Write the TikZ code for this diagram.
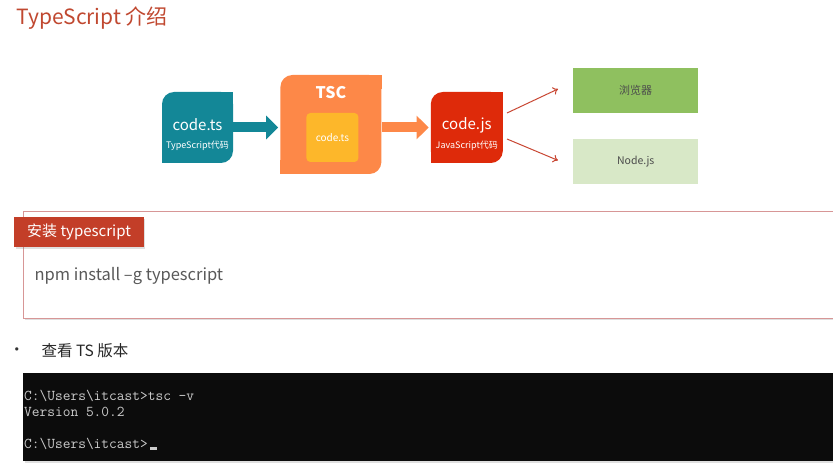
\documentclass[tikz,border=0pt]{standalone}
\usepackage{fontspec}
\setmainfont{Noto Sans CJK SC}
\usetikzlibrary{positioning,arrows.meta,shadows,backgrounds}

\definecolor{titlered}{RGB}{192,72,48}
\definecolor{tsteal}{RGB}{19,135,151}
\definecolor{tscorange}{RGB}{253,136,72}
\definecolor{tscyellow}{RGB}{253,183,42}
\definecolor{jsred}{RGB}{222,42,10}
\definecolor{linkred}{RGB}{200,70,50}
\definecolor{brgreen}{RGB}{143,192,95}
\definecolor{ndgreen}{RGB}{216,232,199}
\definecolor{barred}{RGB}{195,62,40}
\definecolor{boxline}{RGB}{215,150,150}
\definecolor{textgray}{RGB}{89,89,89}
\definecolor{termblack}{RGB}{12,12,12}
\definecolor{termtext}{RGB}{204,204,204}

\begin{document}
\begin{tikzpicture}[
        x=1pt, y=-1pt,
        node distance=26pt,
        tile/.style={rounded corners=12pt, inner sep=0pt},
        tiletext/.style={text=white, inner sep=0pt},
        fatarrow/.style={draw=#1, line width=10pt, -{Triangle[length=12pt,width=23pt]}, shorten >=2pt},
        thinarrow/.style={draw=linkred, line width=1pt, -{To[length=5pt,width=8pt]}},
        softshadow/.style={drop shadow={shadow xshift=1.5pt, shadow yshift=-2pt, opacity=0.25}}
    ]
    \useasboundingbox (0,0) rectangle (833,465);
    \clip (0,0) rectangle (833,465);

    \node (title) [anchor=west, text=titlered, font=\fontsize{21}{24}\selectfont] at (13,18) {TypeScript 介绍};

    % compile chain
    \node (ts)  [tile, fill=tsteal, minimum width=71pt, minimum height=71pt] at (197.5,127.5) {};
    \node (tsc) [tile, fill=tscorange, minimum width=101pt, minimum height=99pt, right=47pt of ts, yshift=3pt] {};
    \node (js)  [tile, fill=jsred, minimum width=72pt, minimum height=71pt, right=49pt of tsc, yshift=-3pt] {};
    \begin{scope}[on background layer]
        \foreach \n/\c in {ts/tsteal, tsc/tscorange, js/jsred} {
            \fill [\c] (\n.north east) rectangle ++(-14pt,-14pt);
            \fill [\c] (\n.south west) rectangle ++(14pt,14pt);
        }
    \end{scope}

    \node (tsname)   [tiletext, font=\fontsize{15}{18}\selectfont] at ([yshift=2.5pt]ts.center)  {code.ts};
    \node (tsnote)   [tiletext, font=\fontsize{9}{11}\selectfont]  at ([yshift=-18.5pt]ts.center) {TypeScript代码};
    \node (tsclabel) [tiletext, font=\bfseries\fontsize{16}{19}\selectfont] at ([yshift=-18pt]tsc.north) {TSC};
    \node (tscin)    [fill=tscyellow, rounded corners=4pt, minimum width=52pt, minimum height=49pt, text=white,
                      font=\fontsize{10}{12}\selectfont] at ([xshift=1.5pt,yshift=-13pt]tsc.center) {code.ts};
    \node (jsname)   [tiletext, font=\fontsize{15}{18}\selectfont] at ([yshift=2.5pt]js.center)  {code.js};
    \node (jsnote)   [tiletext, font=\fontsize{9}{11}\selectfont]  at ([yshift=-18.5pt]js.center) {JavaScript代码};

    \node (br) [fill=brgreen, minimum width=125pt, minimum height=45pt, text=black!70,
                font=\fontsize{11}{13}\selectfont, right=70pt of js, yshift=37pt] {浏览器};
    \node (nd) [fill=ndgreen, minimum width=125pt, minimum height=45pt, text=black!70,
                font=\fontsize{10.5}{13}\selectfont, below=of br] {Node.js};

    \draw [fatarrow=tsteal]    (ts.east) -- (ts.east -| tsc.west);
    \draw [fatarrow=tscorange] (js.west -| tsc.east) -- (js.west);
    \draw [thinarrow] ([xshift=4pt,yshift=14.5pt]js.east)  -- ([xshift=-15pt,yshift=1.5pt]br.west);
    \draw [thinarrow] ([xshift=4pt,yshift=-11.5pt]js.east) -- ([xshift=-15pt,yshift=1.5pt]nd.west);

    % install box
    \node (inst) [draw=boxline, fill=white, line width=0.8pt, minimum width=830pt, minimum height=107pt,
                  anchor=north west, softshadow] at (23,211) {};
    \node (instlabel) [fill=barred, text=white, inner xsep=13pt, minimum height=30pt, anchor=north west,
                       font=\fontsize{15}{18}\selectfont, softshadow] at (14,217) {安装 typescript};
    \node (npm) [anchor=west, text=textgray, font=\fontsize{16.5}{19}\selectfont] at (31,276) {npm install –g typescript};

    \node (dot) [text=black!80, font=\fontsize{16}{18}\selectfont] at (17,352) {•};
    \node (ver) [anchor=west, text=black!85, font=\fontsize{15.5}{18}\selectfont] at (38,351) {查看 TS 版本};

    % terminal
    \node (term) [fill=termblack, minimum width=830pt, minimum height=88pt, anchor=north west, softshadow] at (23,373) {};
    \node (cmd) [anchor=north west, text=termtext, align=left, inner sep=0pt,
                 font=\ttfamily\fontsize{15}{16}\selectfont] at (24,390)
        {C:\textbackslash Users\textbackslash itcast>tsc -v\\Version 5.0.2\\[16pt]C:\textbackslash Users\textbackslash itcast>};
    \fill [termtext] (150,447) rectangle (157,450);
\end{tikzpicture}
\end{document}
